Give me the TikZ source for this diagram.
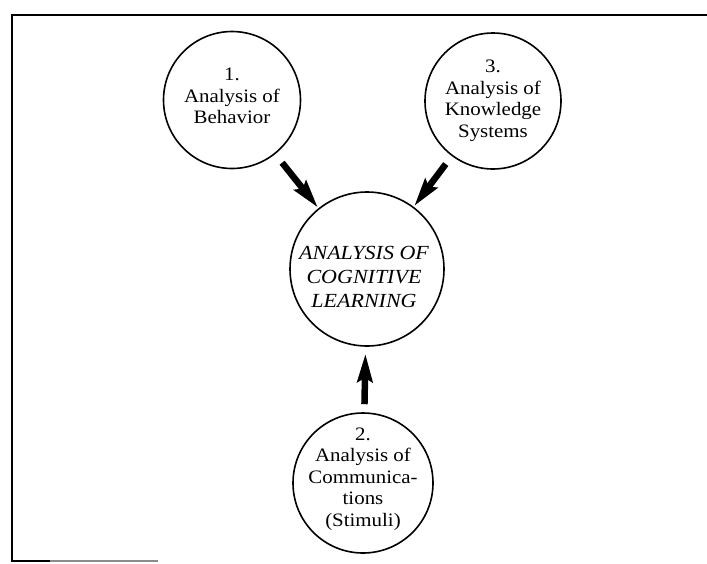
\documentclass[tikz,border=0pt]{standalone}
\usepackage{fontspec}
\setmainfont{Liberation Serif}[FakeStretch=1.1]
\usetikzlibrary{arrows.meta}
\begin{document}
\begin{tikzpicture}[x=1pt,y=-1pt,
  bubble/.style={circle,draw=black,line width=1.6pt,inner sep=0pt},
  txt/.style={align=center,inner sep=0pt,font=\fontsize{19}{21.5}\selectfont},
  bigtxt/.style={txt,font=\fontsize{20}{24}\selectfont\itshape},
  fatarrow/.style={line width=6.5pt,-{Stealth[length=28pt,width=15pt,inset=4pt]}},
  frameline/.style={line width=1.6pt,black}]
\useasboundingbox (0,0) rectangle (707,563);
% frame
\draw[frameline] (707,15) -- (12,15) -- (12,561) -- (50,561);
\draw[line width=1.2pt,black!45] (50,561) -- (158,561);
% circles
\node[bubble,minimum size=137pt] (b1) at (232,100) {};
\node[bubble,minimum size=136pt] (b3) at (493,101) {};
\node[bubble,minimum size=154pt] (c) at (367,269) {};
\node[bubble,minimum size=140pt] (b2) at (363,483) {};
% texts
\node[txt] (t1) at (232,96) {1.\\Analysis of\\Behavior};
\node[txt] (t3) at (493,101) {3.\\Analysis of\\Knowledge\\Systems};
\node[bigtxt] (tc) at (364,277) {ANALYSIS OF\\COGNITIVE\\LEARNING};
\node[txt] (t2) at (363,479) {2.\\Analysis of\\Communica-\\tions\\(Stimuli)};
% arrows
\draw[fatarrow,shorten <=11pt,shorten >=1pt] (b1) -- (c);
\draw[fatarrow,shorten <=10pt,shorten >=1pt] (b3) -- (c);
\draw[fatarrow,shorten <=8pt,shorten >=7pt] (b2) -- (c);
\end{tikzpicture}
\end{document}
